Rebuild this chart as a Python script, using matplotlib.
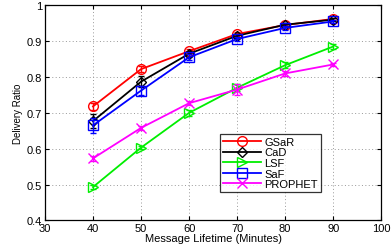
import numpy as np
import matplotlib.pyplot as plt

plt.rcParams['font.family'] = ['Liberation Sans', 'DejaVu Sans']

lifetime = [40, 50, 60, 70, 80, 90]
gsar = [0.718, 0.822, 0.872, 0.920, 0.945, 0.962]
cad = [0.677, 0.787, 0.865, 0.915, 0.946, 0.960]
lsf = [0.493, 0.603, 0.700, 0.770, 0.833, 0.885]
saf = [0.665, 0.762, 0.855, 0.906, 0.937, 0.955]
prophet = [0.573, 0.658, 0.727, 0.765, 0.810, 0.835]

err_gsar = [0.010, 0.008, 0.006, 0.005, 0.004, 0.004]
err_cad = [0.020, 0.015, 0.008, 0.006, 0.005, 0.004]
err_lsf = [0.006, 0.005, 0.008, 0.010, 0.008, 0.006]
err_saf = [0.020, 0.012, 0.008, 0.006, 0.005, 0.004]
err_prophet = [0.008, 0.006, 0.005, 0.015, 0.006, 0.005]

fig = plt.figure(figsize=(3.91, 2.53), dpi=100)
ax = fig.add_axes([0.115, 0.125, 0.86, 0.85])

series = [
    ("GSaR", gsar, err_gsar, 'red', 'o'),
    ("CaD", cad, err_cad, 'black', 'D'),
    ("LSF", lsf, err_lsf, '#00ee00', '>'),
    ("SaF", saf, err_saf, 'blue', 's'),
    ("PROPHET", prophet, err_prophet, 'magenta', 'x'),
]
for nombre, y, e, c, m in series:
    ms = 7 if m != 'D' else 5.5
    # barras de error sin etiqueta
    ax.errorbar(lifetime, y, yerr=e, color=c, fmt='none',
                capsize=2, elinewidth=1.0)
    ax.plot(lifetime, y, color=c, marker=m, markersize=ms,
            markerfacecolor='none', markeredgecolor=c, markeredgewidth=1.0,
            linewidth=1.3, label=nombre)

ax.set_xlim(30, 100)
ax.set_ylim(0.4, 1.0)
ax.set_xticks(np.arange(30, 101, 10))
ax.set_yticks(np.arange(0.4, 1.01, 0.1))
ax.set_yticklabels(["0.4", "0.5", "0.6", "0.7", "0.8", "0.9", "1"])
ax.grid(True, linestyle=(0, (1, 2.5)), color='#999999', linewidth=0.7)
ax.tick_params(labelsize=8, direction='in', length=3, top=True, right=True, pad=2)
ax.set_xlabel("Message Lifetime (Minutes)", fontsize=8, labelpad=0)
ax.set_ylabel("Delivery Ratio", fontsize=7, labelpad=3)
for s in ax.spines.values():
    s.set_linewidth(0.9)

leg = ax.legend(loc='lower left', bbox_to_anchor=(0.52, 0.13), fontsize=8,
                frameon=True, fancybox=False, edgecolor='black',
                handlelength=3.4, borderpad=0.3, labelspacing=0.05,
                handletextpad=0.3, borderaxespad=0)
leg.get_frame().set_linewidth(0.9)

plt.savefig("out.png", dpi=100)
